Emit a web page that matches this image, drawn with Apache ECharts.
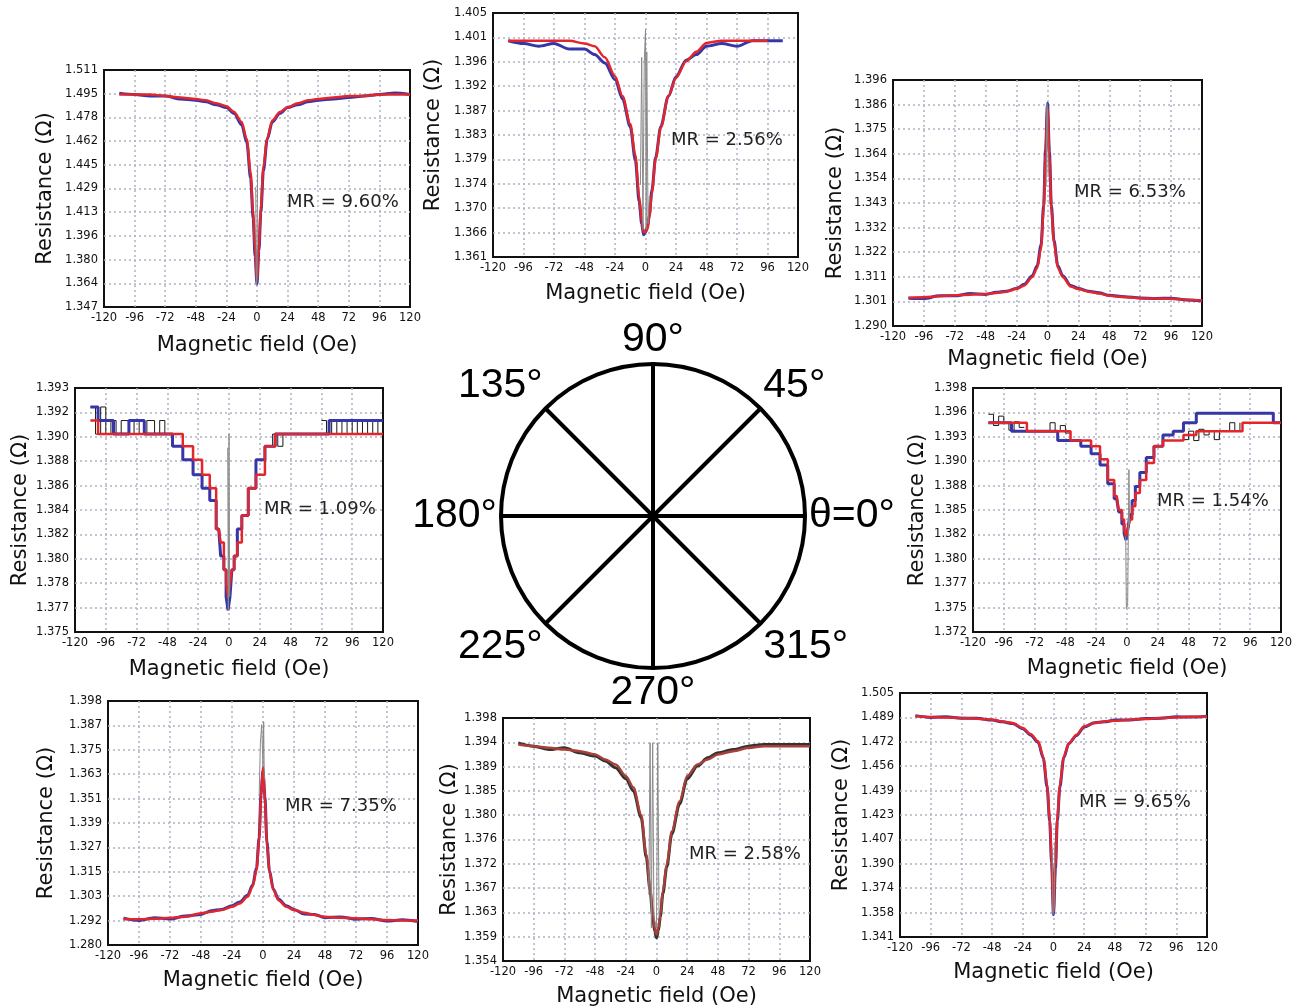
<!DOCTYPE html>
<html>
<head>
<meta charset="utf-8">
<script src="https://cdn.jsdelivr.net/npm/echarts@6/dist/echarts.min.js"></script>
<style>
    html, body { margin: 0; padding: 0; background: #fff; }
    #main { width: 1300px; height: 1008px; }
</style>
</head>
<body>
<div id="main"></div>
<script>
// 磁场取样点 (Oe)
const fieldOe = [-108, -96, -84, -72, -60, -48, -40, -32, -24, -18, -12, -8, -5, -3, -1.5, 0, 1.5, 3, 5, 8, 12, 18, 24, 32, 40, 48, 60, 72, 84, 96, 108, 120];
const xTicks = [-120, -96, -72, -48, -24, 0, 24, 48, 72, 96, 120];

// 135°
const yTicks135 = ['1.347', '1.364', '1.380', '1.396', '1.413', '1.429', '1.445', '1.462', '1.478', '1.495', '1.511'];
const fit135 = [1.494, 1.494, 1.494, 1.493, 1.492, 1.491, 1.490, 1.488, 1.486, 1.482, 1.475, 1.463, 1.440, 1.412, 1.388, 1.366, 1.390, 1.415, 1.444, 1.464, 1.476, 1.482, 1.485, 1.488, 1.490, 1.491, 1.492, 1.493, 1.493, 1.494, 1.494, 1.494];
const data135 = [1.495, 1.494, 1.493, 1.493, 1.491, 1.490, 1.489, 1.487, 1.485, 1.481, 1.473, 1.461, 1.436, 1.408, 1.382, 1.363, 1.386, 1.412, 1.441, 1.463, 1.475, 1.481, 1.485, 1.487, 1.489, 1.490, 1.491, 1.492, 1.493, 1.494, 1.495, 1.494];
const spike135 = [[-1, 1.430], [-0.5, 1.362], [0, 1.366], [0.5, 1.445]];
const mr135 = 'MR = 9.60%';

// 90°
const yTicks90 = ['1.361', '1.366', '1.370', '1.374', '1.379', '1.383', '1.387', '1.392', '1.396', '1.401', '1.405'];
const fit90 = [1.400, 1.400, 1.400, 1.400, 1.400, 1.3995, 1.399, 1.397, 1.3936, 1.390, 1.385, 1.3794, 1.372, 1.3675, 1.3655, 1.3655, 1.366, 1.368, 1.3725, 1.3787, 1.3843, 1.390, 1.3933, 1.3963, 1.398, 1.3996, 1.400, 1.400, 1.400, 1.400, null, null];
const data90 = [1.400, 1.3995, 1.399, 1.3995, 1.3985, 1.3985, 1.3975, 1.396, 1.393, 1.3895, 1.3845, 1.3785, 1.371, 1.367, 1.365, 1.3655, 1.3665, 1.3685, 1.373, 1.379, 1.3845, 1.390, 1.3935, 1.3965, 1.3975, 1.399, 1.3995, 1.399, 1.400, 1.400, 1.400, null];
const spike90 = [[-4, 1.374], [-3, 1.397], [-2, 1.366], [-1, 1.396], [0, 1.402], [0.5, 1.366], [1, 1.398], [2, 1.367], [3, 1.372]];
const mr90 = 'MR = 2.56%';

// 45°
const yTicks45 = ['1.290', '1.301', '1.311', '1.322', '1.332', '1.343', '1.354', '1.364', '1.375', '1.386', '1.396'];
const fit45 = [1.3022, 1.3024, 1.3028, 1.3032, 1.3035, 1.3038, 1.3042, 1.3048, 1.3060, 1.3075, 1.3110, 1.3150, 1.3235, 1.3405, 1.3640, 1.3840, 1.3630, 1.3405, 1.3260, 1.3150, 1.3110, 1.3070, 1.3059, 1.3048, 1.3040, 1.3030, 1.3025, 1.3020, 1.3018, 1.3017, 1.3013, 1.3010];
const data45 = [1.3020, 1.3018, 1.3030, 1.3030, 1.3040, 1.3036, 1.3045, 1.3050, 1.3062, 1.3080, 1.3115, 1.3160, 1.3250, 1.3420, 1.3660, 1.3860, 1.3650, 1.3420, 1.3270, 1.3160, 1.3115, 1.3075, 1.3062, 1.3050, 1.3043, 1.3032, 1.3026, 1.3021, 1.3019, 1.3020, 1.3012, 1.3008];
const spike45 = [[-1, 1.350], [-0.5, 1.386], [0, 1.383], [0.5, 1.355]];
const mr45 = 'MR = 6.53%';

// 180°
const yTicks180 = ['1.375', '1.377', '1.378', '1.380', '1.382', '1.384', '1.386', '1.388', '1.390', '1.392', '1.393'];
const fit180 = [1.3906, 1.3896, 1.3896, 1.3896, 1.3896, 1.3896, 1.3896, 1.3887, 1.3877, 1.3866, 1.3856, 1.3826, 1.3816, 1.3796, 1.3786, 1.3776, 1.3786, 1.3796, 1.3806, 1.3816, 1.3836, 1.3856, 1.3866, 1.3887, 1.3896, 1.3896, 1.3896, 1.3896, 1.3896, 1.3896, 1.3896, 1.3896];
const data180 = [1.3916, 1.3906, 1.3896, 1.3906, 1.3896, 1.3896, 1.3887, 1.3877, 1.3866, 1.3856, 1.3847, 1.3826, 1.3806, 1.3796, 1.3776, 1.3766, 1.3776, 1.3796, 1.3806, 1.3826, 1.3836, 1.3856, 1.3877, 1.3887, 1.3896, 1.3896, 1.3896, 1.3896, 1.3906, 1.3906, 1.3906, 1.3906];
const noise180 = [[-108, 1.3916], [-104, 1.3896], [-100, 1.3916], [-96, 1.3896], [-92, 1.3906], [-88, 1.3896], [-84, 1.3906], [-78, 1.3896], [-74, 1.3906], [-70, 1.3896], [-64, 1.3906], [-58, 1.3896], [-54, 1.3906], [-50, 1.3896], [-46, null],
    [30, 1.3887], [34, 1.3896], [38, 1.3887], [42, 1.3896], [46, null],
    [72, 1.3906], [76, 1.3896], [80, 1.3906], [84, 1.3896], [88, 1.3906], [92, 1.3896], [96, 1.3906], [100, 1.3896], [104, 1.3906], [108, 1.3896], [112, 1.3906], [116, 1.3896], [120, 1.3906]];
const spike180 = [[-1, 1.3886], [-0.5, 1.3766], [0, 1.3896], [0.5, 1.3776]];
const mr180 = 'MR = 1.09%';

// θ=0°
const yTicks0 = ['1.372', '1.375', '1.377', '1.380', '1.382', '1.385', '1.388', '1.390', '1.393', '1.396', '1.398'];
const fit0 = [1.3943, 1.3943, 1.3943, 1.3934, 1.3934, 1.3934, 1.3924, 1.3924, 1.3918, 1.3904, 1.3882, 1.3865, 1.3850, 1.3840, 1.3829, 1.3822, 1.3831, 1.3840, 1.3854, 1.3868, 1.3882, 1.3900, 1.3918, 1.3924, 1.3924, 1.3930, 1.3934, 1.3934, 1.3934, 1.3943, 1.3943, 1.3943];
const data0 = [1.3943, 1.3943, 1.3934, 1.3934, 1.3934, 1.3924, 1.3924, 1.3918, 1.3910, 1.3898, 1.3878, 1.3862, 1.3848, 1.3835, 1.3825, 1.3818, 1.3830, 1.3845, 1.3860, 1.3875, 1.3890, 1.3906, 1.3918, 1.3930, 1.3934, 1.3943, 1.3953, 1.3953, 1.3953, 1.3953, 1.3953, 1.3943];
const noise0 = [[-108, 1.3952], [-104, 1.3940], [-100, 1.3950], [-96, 1.3943], [-92, 1.3935], [-88, 1.3944], [-84, 1.3938], [-80, null],
    [-64, 1.3934], [-60, 1.3943], [-56, 1.3934], [-52, 1.3940], [-48, 1.3932], [-44, null],
    [44, 1.3925], [48, 1.3934], [52, 1.3924], [56, 1.3936], [60, 1.3930], [64, 1.3934], [68, 1.3925], [72, 1.3934], [80, 1.3943], [84, 1.3934], [88, 1.3943]];
const spike0 = [[-1, 1.3822], [-0.5, 1.3745], [0.5, 1.3748], [1.5, 1.3893], [2, 1.3835]];
const mr0 = 'MR = 1.54%';

// 225°
const yTicks225 = ['1.280', '1.292', '1.303', '1.315', '1.327', '1.339', '1.351', '1.363', '1.375', '1.387', '1.398'];
const fit225 = [1.2924, 1.2924, 1.2927, 1.2932, 1.2937, 1.2953, 1.2961, 1.2969, 1.2985, 1.3001, 1.3033, 1.3082, 1.3162, 1.3307, 1.3516, 1.3661, 1.3500, 1.3291, 1.3154, 1.3066, 1.3017, 1.2985, 1.2969, 1.2956, 1.2945, 1.2937, 1.2932, 1.2929, 1.2924, 1.2921, 1.2918, 1.2918];
const data225 = [1.2930, 1.2918, 1.2932, 1.2926, 1.2940, 1.2948, 1.2966, 1.2972, 1.2990, 1.3008, 1.3040, 1.3090, 1.3175, 1.3320, 1.3540, 1.3640, 1.3520, 1.3300, 1.3160, 1.3070, 1.3022, 1.2990, 1.2972, 1.2950, 1.2948, 1.2932, 1.2936, 1.2925, 1.2928, 1.2916, 1.2922, 1.2914];
const spike225 = [[-3, 1.352], [-2, 1.378], [-1, 1.3866], [0, 1.366], [0.5, 1.388], [1, 1.360]];
const mr225 = 'MR = 7.35%';

// 270°
const yTicks270 = ['1.354', '1.359', '1.363', '1.367', '1.372', '1.376', '1.380', '1.385', '1.389', '1.394', '1.398'];
const fit270 = [1.3932, 1.3929, 1.3926, 1.3923, 1.3920, 1.3914, 1.3905, 1.3896, 1.3875, 1.3854, 1.3805, 1.3733, 1.3673, 1.3630, 1.3600, 1.3588, 1.3600, 1.3624, 1.3667, 1.3715, 1.3775, 1.3829, 1.3875, 1.3896, 1.3905, 1.3914, 1.3920, 1.3926, 1.3929, 1.3929, 1.3929, 1.3929];
const data270 = [1.3935, 1.3929, 1.3923, 1.3926, 1.3917, 1.3911, 1.3902, 1.3890, 1.3870, 1.3848, 1.3800, 1.3728, 1.3668, 1.3622, 1.3594, 1.3582, 1.3595, 1.3620, 1.3662, 1.3710, 1.3770, 1.3824, 1.3870, 1.3893, 1.3908, 1.3917, 1.3923, 1.3929, 1.3932, 1.3932, 1.3932, 1.3932];
const spike270 = [[-6, 1.366], [-5, 1.3935], [-4, 1.360], [-3, 1.3935], [-2, 1.362], [0, 1.360], [1, 1.3935], [2, 1.362]];
const mr270 = 'MR = 2.58%';

// 315°
const yTicks315 = ['1.341', '1.358', '1.374', '1.390', '1.407', '1.423', '1.439', '1.456', '1.472', '1.489', '1.505'];
const fit315 = [1.4893, 1.4889, 1.4886, 1.4882, 1.4877, 1.4871, 1.4859, 1.4848, 1.4814, 1.4774, 1.4725, 1.4623, 1.4432, 1.4208, 1.3938, 1.3579, 1.3893, 1.4208, 1.4432, 1.4623, 1.4713, 1.4769, 1.4826, 1.4848, 1.4859, 1.4864, 1.4871, 1.4875, 1.4882, 1.4886, 1.4891, 1.4891];
const data315 = [1.4898, 1.4886, 1.4890, 1.4880, 1.4880, 1.4868, 1.4856, 1.4845, 1.4810, 1.4768, 1.4718, 1.4612, 1.4418, 1.4190, 1.3910, 1.3560, 1.3870, 1.4190, 1.4420, 1.4615, 1.4710, 1.4765, 1.4822, 1.4850, 1.4856, 1.4868, 1.4868, 1.4878, 1.4880, 1.4890, 1.4888, 1.4894];
const spike315 = [[-1, 1.400], [-0.5, 1.356], [0.5, 1.360], [1, 1.405]];
const mr315 = 'MR = 9.65%';

// 中间的角度示意图
const angleTicks = [0, 45, 90, 135, 180, 225, 270, 315];
const angleLabels = ['θ=0°', '45°', '90°', '135°', '180°', '225°', '270°', '315°'];

(function () {
    let myechart = echarts.init(document.getElementById('main'));

    const RED = '#e3262b';
    const BLUE = '#3636a6';
    const FONT = 'DejaVu Sans';

    // box = [left, top, width, height]
    const panels = [
        { fit: fit135, data: data135, spike: spike135, ticks: yTicks135, mr: mr135, box: [104, 70, 306, 237], mrPos: [287, 193], yGap: 48, xGap: 28 },
        { fit: fit90, data: data90, spike: spike90, ticks: yTicks90, mr: mr90, box: [493, 13, 305, 244], mrPos: [671, 131], yGap: 49, xGap: 26 },
        { fit: fit45, data: data45, spike: spike45, ticks: yTicks45, mr: mr45, box: [893, 80, 309, 246], mrPos: [1074, 183], yGap: 47, xGap: 23 },
        { fit: fit180, data: data180, spike: spike180, noise: noise180, step: true, ticks: yTicks180, mr: mr180, box: [75, 388, 308, 244], mrPos: [264, 500], yGap: 44, xGap: 27 },
        { fit: fit0, data: data0, spike: spike0, noise: noise0, step: true, ticks: yTicks0, mr: mr0, box: [973, 388, 308, 244], mrPos: [1157, 492], yGap: 45, xGap: 26 },
        { fit: fit225, data: data225, spike: spike225, ticks: yTicks225, mr: mr225, box: [108, 701, 310, 244], mrPos: [285, 797], yGap: 51, xGap: 25 },
        { fit: fit270, data: data270, spike: spike270, ticks: yTicks270, mr: mr270, box: [503, 718, 307, 244], mrPos: [689, 845], yGap: 41, xGap: 25, fitColor: '#a8403a', dataColor: '#333' },
        { fit: fit315, data: data315, spike: spike315, ticks: yTicks315, mr: mr315, box: [900, 693, 307, 244], mrPos: [1079, 793], yGap: 48, xGap: 25 }
    ];

    const grid = [], xAxis = [], yAxis = [], series = [], graphic = [];
    // 网格虚线 (边上不画, 避免盖住黑色边框)
    const splitLine = { show: true, showMinLine: false, showMaxLine: false, lineStyle: { color: '#aeb2c2', width: 1.5, type: [2, 3] } };

    panels.forEach(function (p, i) {
        grid.push({
            left: p.box[0], top: p.box[1], width: p.box[2], height: p.box[3],
            show: true, backgroundColor: '#fff', borderColor: '#111', borderWidth: 2
        });
        xAxis.push({
            gridIndex: i, type: 'value',
            min: xTicks[0], max: xTicks[xTicks.length - 1], interval: xTicks[1] - xTicks[0],
            name: 'Magnetic field (Oe)', nameLocation: 'middle', nameGap: p.xGap,
            nameTextStyle: { fontSize: 21, color: '#111', fontFamily: FONT },
            axisLine: { show: false }, axisTick: { show: false },
            axisLabel: { fontSize: 11.5, color: '#111', fontFamily: FONT, margin: 5 },
            splitLine: splitLine
        });
        const yMin = +p.ticks[0];
        const yMax = +p.ticks[p.ticks.length - 1];
        // 取整, 避免浮点误差多出一条顶线
        const yInt = +((yMax - yMin) / (p.ticks.length - 1)).toFixed(6);
        yAxis.push({
            gridIndex: i, type: 'value',
            min: yMin, max: yMax, interval: yInt,
            name: 'Resistance (Ω)', nameLocation: 'middle', nameGap: p.yGap,
            nameTextStyle: { fontSize: 21, color: '#111', fontFamily: FONT },
            axisLine: { show: false }, axisTick: { show: false },
            axisLabel: {
                fontSize: 11.5, color: '#111', fontFamily: FONT, margin: 6,
                formatter: function (v) {
                    return p.ticks[Math.round((v - yMin) / yInt)] || '';
                }
            },
            splitLine: splitLine
        });

        const lineBase = {
            type: 'line', xAxisIndex: i, yAxisIndex: i,
            showSymbol: false, silent: true
        };
        if (p.noise) {
            series.push(Object.assign({}, lineBase, {
                data: p.noise, step: 'end', z: 2,
                lineStyle: { color: '#1a1a1a', width: 1 }
            }));
        }
        series.push(Object.assign({}, lineBase, {
            data: fieldOe.map(function (x, k) { return [x, p.data[k]]; }),
            step: p.step ? 'middle' : false,
            smooth: p.step ? false : 0.3, smoothMonotone: 'x',
            z: 3,
            lineStyle: { color: p.dataColor || BLUE, width: 3 }
        }));
        series.push(Object.assign({}, lineBase, {
            data: fieldOe.map(function (x, k) { return [x, p.fit[k]]; }),
            step: p.step ? 'middle' : false,
            smooth: p.step ? false : 0.3, smoothMonotone: 'x',
            z: 4,
            lineStyle: { color: p.fitColor || RED, width: 2.5 }
        }));
        series.push(Object.assign({}, lineBase, {
            data: p.spike, z: 5,
            lineStyle: { color: '#8a8a8a', width: 1 }
        }));

        graphic.push({
            type: 'text', left: p.mrPos[0], top: p.mrPos[1], z: 10,
            style: { text: p.mr, font: '18px "' + FONT + '"', fill: '#222' }
        });
    });

    var option = {
        animation: false,
        backgroundColor: '#fff',
        grid: grid,
        xAxis: xAxis,
        yAxis: yAxis,
        polar: { center: [653, 516], radius: 152 },
        angleAxis: {
            type: 'value', min: 0, max: 360, interval: angleTicks[1] - angleTicks[0],
            startAngle: 0, clockwise: false,
            axisLine: { lineStyle: { color: '#000', width: 4 } },
            axisTick: { show: false },
            axisLabel: {
                fontSize: 41, color: '#000', fontFamily: 'Liberation Sans', margin: 4,
                formatter: function (v) {
                    const k = angleTicks.indexOf(v);
                    return k >= 0 ? angleLabels[k] : '';
                }
            },
            splitLine: { show: true, lineStyle: { color: '#000', width: 4 } }
        },
        radiusAxis: { show: false, min: 0, max: 1 },
        graphic: graphic,
        series: series
    };

    myechart.setOption(option);
    window.addEventListener('resize', function () {
        myechart.resize();
    });
})();
</script>
</body>
</html>
